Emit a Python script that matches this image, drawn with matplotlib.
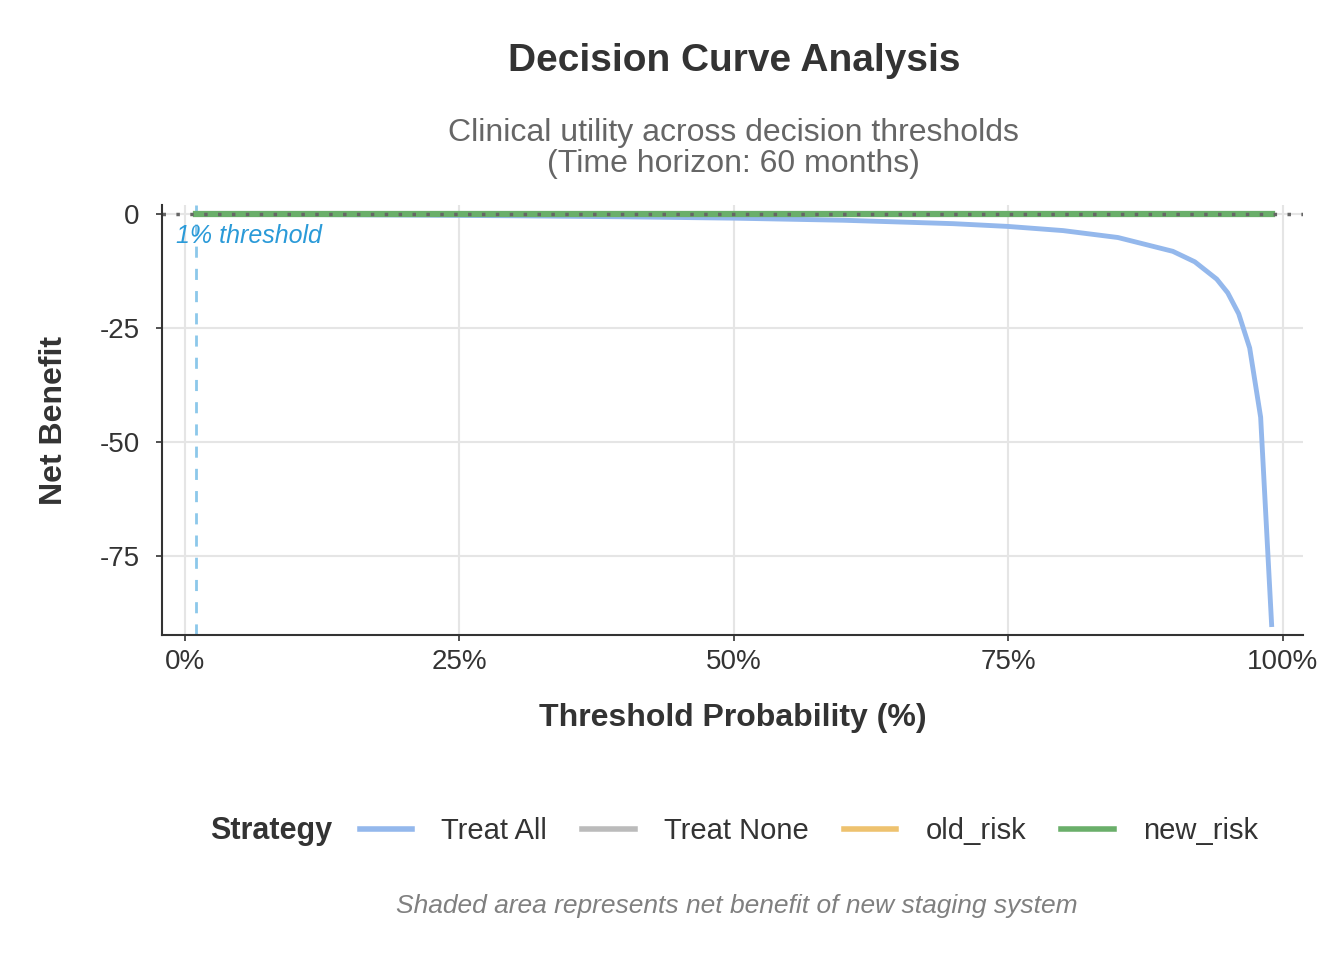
import matplotlib
matplotlib.use("Agg")
import matplotlib.pyplot as plt
from matplotlib.lines import Line2D
from matplotlib.offsetbox import HPacker

plt.rcParams['font.family'] = ['Liberation Sans', 'DejaVu Sans']

thresholds = [0.01, 0.1, 0.2, 0.3, 0.4, 0.5, 0.6, 0.7, 0.75, 0.8, 0.85, 0.9,
              0.92, 0.94, 0.95, 0.96, 0.97, 0.98, 0.99]
treat_all = [0.081, -0.011, -0.14, -0.30, -0.52, -0.82, -1.28, -2.03, -2.64,
             -3.55, -5.07, -8.10, -10.4, -14.2, -17.2, -21.8, -29.3, -44.5, -90.0]
treat_none = [0.0] * len(thresholds)
old_risk = [0.0] * len(thresholds)
new_risk = [0.0] * len(thresholds)
x_ticks = [0, 0.25, 0.5, 0.75, 1.0]
x_labels = ["0%", "25%", "50%", "75%", "100%"]
y_ticks = [0, -25, -50, -75]
y_labels = ["0", "-25", "-50", "-75"]

fig = plt.figure(figsize=(13.44, 9.6), dpi=100)
ax = fig.add_axes([0.1205, 0.3385, 0.849, 0.4475])
ax.set_xlim(-0.021, 1.0186)
ax.set_ylim(-92.3, 1.97)
ax.grid(True, color='#e5e5e5', lw=1.5)
ax.set_axisbelow(True)
for s in ['top', 'right']:
    ax.spines[s].set_visible(False)
for s in ['left', 'bottom']:
    ax.spines[s].set_color('#333333'); ax.spines[s].set_linewidth(1.5)

ax.axvline(0.01, color='#8cc8ea', ls=(0, (4, 4)), lw=2)
ax.text(-0.008, -2, "1% threshold", color='#2a9ad8', style='italic', fontsize=18, va='top')
ax.plot(thresholds, treat_all, color='#94b8ec', lw=3.5, label='Treat All')
ax.plot(thresholds, treat_none, color='#bbbbbb', lw=3, label='Treat None')
ax.plot(thresholds, old_risk, color='#eec26f', lw=4, label='old_risk')
ax.plot(thresholds, new_risk, color='#6aaf6a', lw=4.5, label='new_risk')
ax.axhline(0, color='#666666', ls=(0, (1, 3)), lw=2.5)

ax.set_xticks(x_ticks, x_labels)
ax.set_yticks(y_ticks, y_labels)
ax.tick_params(labelsize=20, colors='#333333', length=4, width=1.2, pad=6)
ax.tick_params(axis='y', pad=12)
ax.set_xlabel("Threshold Probability (%)", fontsize=23, fontweight='bold', color='#333333', labelpad=20)
ax.set_ylabel("Net Benefit", fontsize=23, fontweight='bold', color='#333333', labelpad=22)

fig.text(0.546, 0.936, "Decision Curve Analysis", ha='center', va='center', fontsize=28, fontweight='bold', color='#333333')
fig.text(0.546, 0.845, "Clinical utility across decision thresholds\n(Time horizon: 60 months)",
         ha='center', va='center', fontsize=23, color='#666666', linespacing=1.05)

handles = [Line2D([], [], color=c, lw=4) for c in ['#94b8ec', '#bbbbbb', '#eec26f', '#6aaf6a']]
leg = fig.legend(handles, ['Treat All', 'Treat None', 'old_risk', 'new_risk'], loc='center',
                 bbox_to_anchor=(0.546, 0.134), ncol=4, frameon=False, fontsize=21,
                 title='Strategy', handlelength=1.8, columnspacing=1.2, handletextpad=1.0)
leg.get_title().set_fontweight('bold'); leg.get_title().set_fontsize(22)
leg.get_title().set_color('#333333')
for t in leg.get_texts():
    t.set_color('#333333')
box = leg._legend_box
box._children = [HPacker(children=box._children, align='center', pad=0, sep=20)]

fig.text(0.548, 0.056, "Shaded area represents net benefit of new staging system", ha='center', va='center',
         fontsize=19, style='italic', color='#808080')
fig.savefig("out.png", dpi=100)
